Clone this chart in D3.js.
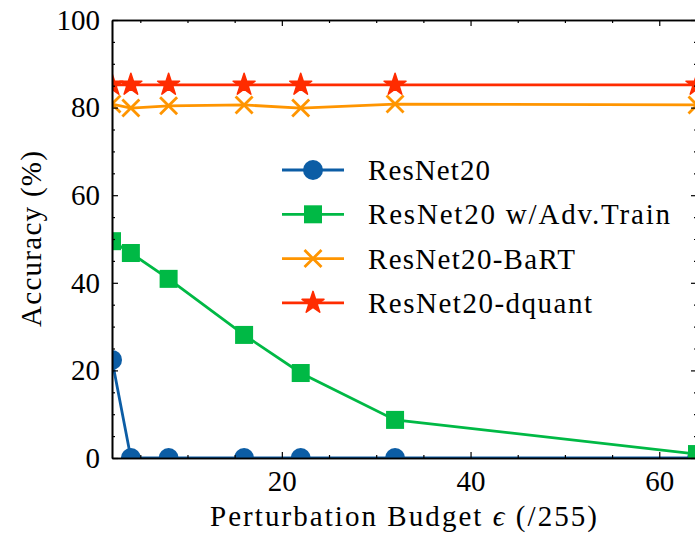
<!DOCTYPE html>
<html>
<head>
<meta charset="utf-8">
<script src="https://cdn.jsdelivr.net/npm/d3@7"></script>
<style>
  body { margin: 0; background: #fff; }
  text { font-family: "Liberation Serif", "DejaVu Serif", serif; }
</style>
</head>
<body>
<div id="chart"></div>
<script>
// data
const epsilons = [2, 4, 8, 16, 22, 32, 64];
const resnet = [22.4, 0, 0, 0, 0, 0, 0];
const advTrain = [49.5, 46.8, 40.9, 28.1, 19.4, 8.7, 0.9];
const bart = [80.8, 79.9, 80.4, 80.6, 79.9, 80.8, 80.6];
const dquant = [85.2, 85.2, 85.2, 85.2, 85.2, 85.2, 85.2];
const seriesNames = ["ResNet20", "ResNet20 w/Adv.Train", "ResNet20-BaRT", "ResNet20-dquant"];
const yTicks = [0, 20, 40, 60, 80, 100];
const xTicks = [20, 40, 60];

const colors = ["#0C5DA5", "#00B945", "#FF9500", "#FF2C00"];
const markers = ["circle", "square", "cross", "star"];
const allSeries = [resnet, advTrain, bart, dquant];
// rendered widths of the legend labels in the original (Computer Modern is wider)
const legendWidths = [122, 302, 207, 224];

const W = 695, H = 535;
const margin = { top: 20, right: -2, bottom: 77, left: 112 };
const width = W - margin.left - margin.right,
      height = H - margin.top - margin.bottom;

const svg = d3.select("#chart").append("svg")
    .attr("width", W)
    .attr("height", H);

const g = svg.append("g")
    .attr("transform", "translate(" + margin.left + "," + margin.top + ")");

const x = d3.scaleLinear().domain([2, 64]).range([0, width]);
const y = d3.scaleLinear().domain([0, 100]).range([height, 0]);

g.append("clipPath").attr("id", "clip")
  .append("rect").attr("width", width).attr("height", height);

function drawMarker(sel, type, color) {
    if (type === "circle") {
        sel.append("circle").attr("r", 10).attr("fill", color);
    } else if (type === "square") {
        sel.append("rect").attr("x", -9).attr("y", -9).attr("width", 18).attr("height", 18).attr("fill", color);
    } else if (type === "cross") {
        sel.append("path").attr("d", "M-8.5,-8.5L8.5,8.5M-8.5,8.5L8.5,-8.5")
            .attr("stroke", color).attr("stroke-width", 2.8).attr("fill", "none");
    } else {
        sel.append("path").attr("d", d3.symbol().type(d3.symbolStar).size(150)())
            .attr("fill", color).attr("stroke", color).attr("stroke-width", 1.5)
            .attr("stroke-linejoin", "round");
    }
}

// lines + markers
const plot = g.append("g").attr("clip-path", "url(#clip)");
allSeries.forEach((vals, i) => {
    const pts = epsilons.map((e, j) => ({ e: e, v: vals[j] }));
    const line = d3.line().x(d => x(d.e)).y(d => y(d.v));
    plot.append("path")
        .datum(pts)
        .attr("fill", "none")
        .attr("stroke", colors[i])
        .attr("stroke-width", 2.8)
        .attr("d", line);
    pts.forEach(d => {
        const m = plot.append("g").attr("transform", "translate(" + x(d.e) + "," + y(d.v) + ")");
        drawMarker(m, markers[i], colors[i]);
    });
});

// axes with inward ticks, minor every 5
const xMinor = d3.range(5, 65, 5).filter(v => v % 20 !== 0);
const yMinor = d3.range(5, 100, 5).filter(v => v % 20 !== 0);

function tickAxis(axis, major) {
    return axis.tickValues(major).tickSizeInner(-6).tickSizeOuter(0).tickPadding(12);
}

g.append("g").attr("transform", "translate(0," + height + ")")
    .call(tickAxis(d3.axisBottom(x), xTicks).tickFormat(d3.format("d")));
g.append("g").call(tickAxis(d3.axisLeft(y), yTicks).tickFormat(d3.format("d")));
g.append("g").call(tickAxis(d3.axisTop(x), xTicks).tickFormat(""));
g.append("g").attr("transform", "translate(" + width + ",0)")
    .call(tickAxis(d3.axisRight(y), yTicks).tickFormat(""));

g.append("g").attr("transform", "translate(0," + height + ")")
    .call(d3.axisBottom(x).tickValues(xMinor).tickSizeInner(-3).tickSizeOuter(0).tickFormat(""));
g.append("g").call(d3.axisTop(x).tickValues(xMinor).tickSizeInner(-3).tickSizeOuter(0).tickFormat(""));
g.append("g").call(d3.axisLeft(y).tickValues(yMinor).tickSizeInner(-3).tickSizeOuter(0).tickFormat(""));
g.append("g").attr("transform", "translate(" + width + ",0)")
    .call(d3.axisRight(y).tickValues(yMinor).tickSizeInner(-3).tickSizeOuter(0).tickFormat(""));

g.selectAll(".domain").attr("stroke", "#000").attr("stroke-width", 1.6);
g.selectAll(".tick line").attr("stroke", "#000").attr("stroke-width", 1.2);
g.selectAll(".tick text").attr("fill", "#000").style("font-size", "29px");

// axis labels
svg.append("text")
    .attr("x", margin.left + width / 2 - 1)
    .attr("y", 526)
    .attr("text-anchor", "middle")
    .attr("textLength", 387)
    .attr("lengthAdjust", "spacing")
    .style("font-size", "29px")
    .html("Perturbation Budget <tspan font-style='italic'>\u03F5</tspan> (/255)");

svg.append("text")
    .attr("transform", "rotate(-90)")
    .attr("x", -(margin.top + height / 2))
    .attr("y", 41)
    .attr("text-anchor", "middle")
    .attr("textLength", 176)
    .attr("lengthAdjust", "spacing")
    .style("font-size", "29px")
    .text("Accuracy (%)");

// legend
const legend = g.append("g").attr("transform", "translate(170,150)");
seriesNames.forEach((name, i) => {
    const row = legend.append("g").attr("transform", "translate(0," + (i * 44.3) + ")");
    row.append("line").attr("x1", 0).attr("x2", 62)
        .attr("stroke", colors[i]).attr("stroke-width", 2.8);
    const m = row.append("g").attr("transform", "translate(31,0)");
    drawMarker(m, markers[i], colors[i]);
    row.append("text").attr("x", 86).attr("y", 10)
        .attr("textLength", legendWidths[i])
        .attr("lengthAdjust", "spacing")
        .style("font-size", "29px")
        .text(name);
});
</script>
</body>
</html>
